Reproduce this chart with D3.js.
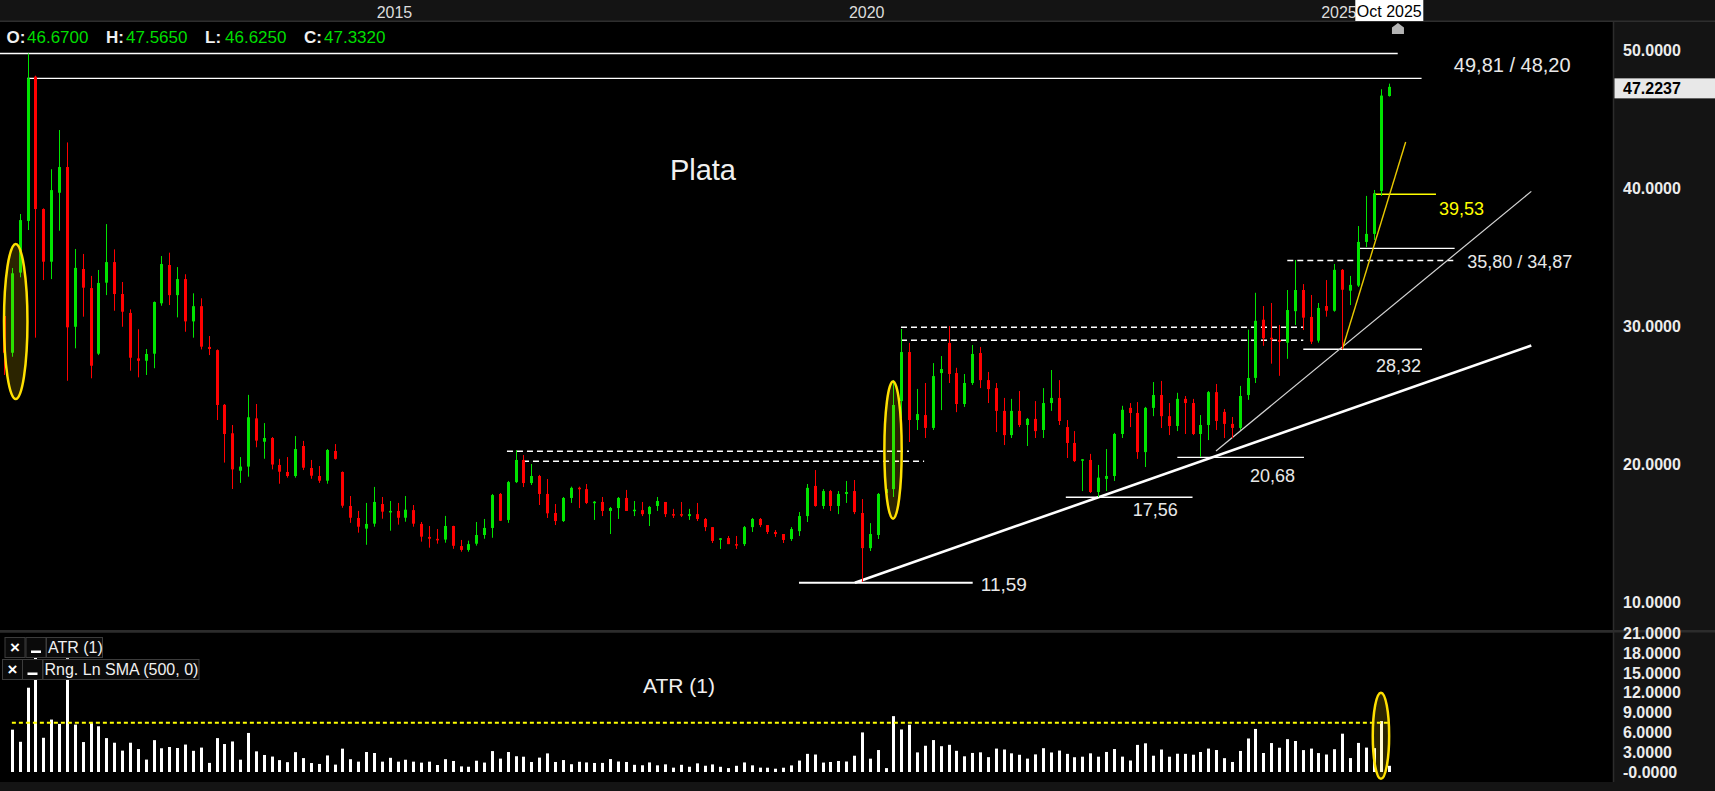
<!DOCTYPE html>
<html><head><meta charset="utf-8">
<script src="https://cdn.jsdelivr.net/npm/d3@7"></script>
<style>html,body{margin:0;padding:0;background:#000;overflow:hidden}</style>
</head><body>
<script>
// ---------------- DATA (monthly candles, Feb 2011 .. Oct 2025) ----------------
const months = d3.timeMonth.range(new Date(2011, 1, 1), new Date(2025, 10, 1));
const open = [
30.75,28.09,33.89,37.63,48.07,38.49,34.68,39.67,41.53,29.97,
34.15,32.77,28.02,33.16,34.65,32.34,30.97,27.68,27.51,28.02,
31.67,34.44,32.26,33.42,30.36,31.46,28.51,28.28,24.32,22.26,
19.55,19.85,23.34,21.65,21.92,19.97,19.46,19.17,21.34,19.75,
19.17,18.83,20.98,19.46,17.00,16.13,15.36,15.72,17.14,16.56,
16.64,16.15,16.70,15.70,14.76,14.62,14.57,15.55,14.10,13.82,
14.27,14.90,15.41,17.87,15.99,18.73,20.33,18.66,19.17,17.87,
16.49,15.91,17.58,18.32,18.22,17.24,17.29,16.64,16.85,17.58,
16.65,16.70,16.41,17.00,17.29,16.41,16.41,16.27,16.41,16.06,
15.47,14.58,14.68,14.24,14.24,15.47,16.06,15.62,15.12,14.97,
14.61,15.18,16.27,18.45,17.00,18.08,17.00,17.87,18.08,16.49,
13.95,14.90,17.94,18.22,24.59,28.14,23.22,23.58,22.65,26.62,
28.80,26.62,24.38,25.90,28.07,26.11,25.53,23.88,22.13,23.88,
22.86,23.30,22.50,24.45,24.82,22.71,21.56,20.30,20.33,18.01,
18.96,19.17,22.21,24.10,23.73,20.90,24.10,25.03,23.50,22.79,
24.75,24.45,22.21,22.86,25.24,23.81,22.94,22.65,25.03,26.27,
30.48,29.17,29.01,28.82,31.10,32.63,30.68,28.97,31.47,31.13,
34.09,32.58,32.95,36.11,36.69,39.80,46.67];
const high = [
30.88,34.22,38.13,49.75,48.14,38.54,41.37,44.21,43.31,35.60,
35.24,33.65,34.08,37.40,35.57,33.21,31.23,29.79,28.36,31.80,
35.09,35.33,34.29,33.77,32.39,32.03,29.30,28.33,24.38,22.86,
20.54,25.04,24.38,23.00,21.99,20.41,20.54,22.06,21.71,20.33,
19.89,21.12,21.48,19.50,17.72,16.64,17.22,18.38,17.65,17.36,
17.22,17.72,17.07,15.84,15.55,15.33,16.28,15.57,14.54,14.49,
15.84,16.06,17.87,17.94,18.81,21.05,20.69,20.04,19.25,18.95,
17.14,17.65,18.40,18.40,18.59,17.36,17.65,16.93,17.65,18.16,
17.36,17.29,17.00,17.65,17.29,16.79,17.29,16.79,17.22,16.13,
15.47,14.68,14.83,14.83,15.55,16.13,16.13,15.62,15.26,14.97,
15.47,16.56,18.59,19.60,18.22,18.16,18.08,18.81,18.88,17.50,
15.76,17.94,18.31,26.12,29.81,28.80,25.47,25.90,27.34,27.85,
30.02,27.00,26.55,28.65,28.51,26.70,25.90,24.82,24.75,25.32,
23.37,24.59,25.53,26.84,26.11,23.22,22.42,20.40,20.77,19.97,
21.12,22.29,24.25,24.45,24.52,24.17,25.97,26.05,24.45,25.19,
24.96,24.75,23.58,25.32,25.83,24.02,23.44,25.69,29.76,32.43,
31.47,31.69,30.10,32.63,34.80,33.06,32.27,31.69,33.35,34.51,
34.15,33.65,37.26,39.44,39.87,47.16,47.565];
const low = [
26.48,27.80,33.55,36.97,29.18,33.35,33.42,36.92,26.06,28.41,
30.70,26.24,27.92,32.26,31.13,29.97,26.79,26.31,26.48,26.97,
31.49,31.54,30.65,29.61,29.18,28.33,27.92,23.22,20.14,18.23,
18.67,19.12,21.25,20.42,19.65,18.61,19.05,19.05,19.60,18.97,
18.67,18.61,20.36,16.87,15.78,15.07,14.19,15.50,16.08,15.21,
15.65,15.86,15.50,14.42,13.98,14.27,14.34,13.90,13.69,13.69,
14.13,14.63,14.70,15.91,15.78,18.66,18.37,18.52,17.07,16.13,
15.62,15.84,17.22,16.85,17.14,15.99,16.27,14.97,16.06,16.64,
16.27,16.27,15.55,16.64,16.20,16.13,16.20,15.99,15.91,15.18,
14.32,13.89,14.24,13.89,14.10,15.12,15.47,14.97,14.76,14.32,
14.47,14.83,15.84,16.95,16.79,16.64,16.41,17.22,16.41,11.50,
13.74,14.61,17.72,17.65,23.36,21.63,22.50,21.92,22.50,23.94,
25.90,23.79,24.17,25.76,25.53,24.45,22.35,21.41,21.92,22.71,
21.34,21.92,21.92,23.88,22.86,20.47,20.18,18.08,17.94,17.65,
18.08,18.81,21.92,22.71,20.41,19.82,23.50,22.64,22.13,22.42,
22.21,22.13,20.55,21.77,22.50,21.92,21.92,22.50,24.68,25.90,
28.59,27.30,26.42,27.65,30.10,29.74,28.72,28.82,30.70,31.06,
28.34,31.54,32.85,35.74,36.25,39.44,46.625];
const close = [
28.09,33.84,37.69,47.95,38.49,34.68,39.86,41.53,29.93,34.23,
32.80,27.15,33.14,34.65,32.34,31.06,27.73,27.51,28.00,31.76,
34.51,32.26,33.42,30.36,31.46,28.53,28.36,24.31,22.21,19.65,
19.85,23.42,21.73,21.92,20.00,19.48,19.17,21.12,19.77,19.19,
18.83,21.05,20.41,17.02,16.15,15.50,15.70,17.29,16.59,16.64,
16.15,16.73,15.72,14.78,14.63,14.54,15.55,14.12,13.82,14.24,
14.90,15.41,17.79,15.93,18.73,20.33,18.66,19.17,17.87,16.47,
15.91,17.58,18.31,18.24,17.22,17.31,16.64,16.85,17.58,16.64,
16.73,16.41,16.93,17.36,16.41,16.34,16.34,16.41,16.06,15.47,
14.47,14.66,14.24,14.17,15.47,16.06,15.62,15.12,14.97,14.54,
15.33,16.27,18.31,17.00,18.08,17.00,17.87,18.01,16.56,13.95,
14.97,17.87,18.22,24.31,28.14,23.22,23.65,22.65,26.40,26.91,
26.55,24.38,25.90,28.00,26.11,25.46,23.88,22.13,23.88,22.86,
23.30,22.42,24.45,24.82,23.15,21.56,20.25,20.38,18.01,19.05,
19.17,22.21,23.96,23.73,20.90,24.10,25.03,23.50,22.79,24.75,
24.45,22.21,22.86,25.24,23.15,22.94,22.65,24.96,26.26,30.40,
29.14,29.06,28.89,31.18,32.63,30.63,28.89,31.33,31.13,34.09,
32.65,33.00,36.11,36.69,39.60,46.70,47.332];

const yearLabels = [2015, 2020, 2025];
const priceTicks = [50, 40, 30, 20, 10];
const atrTicks = [21, 18, 15, 12, 9, 6, 3, 0];
const smaLevel = 7.45;          // Rng. Ln SMA (500, 0)
const lastPrice = 47.2237;

// annotation lines (candle index units, price values)
const hLines = [
  {i0:-0.6, i1:177.07, v:49.75, c:"#ffffff", w:1.6},
  {i0:2.96, i1:180.1, v:47.95, c:"#ffffff", w:1.4},
  {i0:101.0, i1:123.07, v:11.45, c:"#ffffff", w:2},
  {i0:134.9, i1:151.0, v:17.63, c:"#ffffff", w:1.4},
  {i0:149.07, i1:165.16, v:20.52, c:"#ffffff", w:1.4},
  {i0:165.07, i1:180.15, v:28.34, c:"#ffffff", w:1.4},
  {i0:173.96, i1:181.93, v:39.56, c:"#ffff00", w:1.4},
  {i0:172.06, i1:184.3, v:35.64, c:"#ffffff", w:1.4}
];
const dashLines = [
  {i0:163.04, i1:184.3, v:34.77},
  {i0:113.96, i1:165.07, v:29.93},
  {i0:113.96, i1:165.07, v:28.99},
  {i0:63.9, i1:114.98, v:20.96},
  {i0:65.94, i1:116.9, v:20.24}
];
const trendLines = [
  {i0:108.1, v0:11.45, i1:194.04, v1:28.61, c:"#ffffff", w:2.6},
  {i0:153.98, v0:20.98, i1:194.04, v1:39.77, c:"#d4d4d4", w:1.2},
  {i0:170.03, v0:28.34, i1:178.08, v1:43.34, c:"#e8c800", w:1.4}
];
const labels = [
  {t:"49,81 / 48,20", i:184.2, v:48.91, s:20, c:"#e8e8e8", a:"start"},
  {t:"39,53", i:182.3, v:38.49, s:18, c:"#ffff00", a:"start"},
  {t:"35,80 / 34,87", i:185.9, v:34.66, s:18, c:"#e8e8e8", a:"start"},
  {t:"28,32", i:174.3, v:27.13, s:18, c:"#e8e8e8", a:"start"},
  {t:"20,68", i:158.3, v:19.17, s:18, c:"#e8e8e8", a:"start"},
  {t:"17,56", i:143.4, v:16.71, s:18, c:"#e8e8e8", a:"start"},
  {t:"11,59", i:124.1, v:11.32, s:19, c:"#e8e8e8", a:"start"},
  {t:"Plata", i:88.8, v:41.32, s:29, c:"#f0f0f0", a:"middle"}
];
const priceEllipses = [
  {i:1.49, v:30.35, ri:1.49, rv:5.61},
  {i:112.95, v:21.04, ri:1.1, rv:4.96}
];
const atrEllipse = {i:174.94, v:5.5, ri:1.04, rv:6.53};

// ---------------- LAYOUT ----------------
const W = 1715, H = 791;
const FONT = "'Liberation Sans', Arial, sans-serif";
const GREEN = "#00e400", RED = "#ff0000";
const n = open.length;
const candles = d3.range(n).map(i => ({i, d:months[i], o:open[i], h:high[i], l:low[i], c:close[i]}));
const atr = candles.map((d, i) => i === 0 ? null :
  Math.max(d.h, close[i-1]) - Math.min(d.l, close[i-1]));

const x = d3.scaleLinear().domain([0, n - 1]).range([4, 1389.3]);
const y = d3.scaleLinear().domain([10, 50]).range([602.7, 50]);
const yA = d3.scaleLinear().domain([0, 21]).range([772, 633.5]);

const svg = d3.select("body").append("svg").attr("width", W).attr("height", H)
  .style("font-family", FONT);
svg.append("rect").attr("width", W).attr("height", H).attr("fill", "#000");

const defs = svg.append("defs");
defs.append("clipPath").attr("id", "cp").append("rect").attr("x", 0).attr("y", 22).attr("width", 1613).attr("height", 608);
defs.append("clipPath").attr("id", "ca").append("rect").attr("x", 0).attr("y", 632).attr("width", 1613).attr("height", 150);

// ---- price panel ----
const gp = svg.append("g").attr("clip-path", "url(#cp)");

gp.selectAll("line.dash").data(dashLines).join("line")
  .attr("x1", d => x(d.i0)).attr("x2", d => x(d.i1))
  .attr("y1", d => y(d.v)).attr("y2", d => y(d.v))
  .attr("stroke", "#ffffff").attr("stroke-width", 1.4).attr("stroke-dasharray", "6,4");

gp.selectAll("line.h").data(hLines).join("line")
  .attr("x1", d => x(d.i0)).attr("x2", d => x(d.i1))
  .attr("y1", d => y(d.v)).attr("y2", d => y(d.v))
  .attr("stroke", d => d.c).attr("stroke-width", d => d.w);

gp.selectAll("line.t").data(trendLines).join("line")
  .attr("x1", d => x(d.i0)).attr("x2", d => x(d.i1))
  .attr("y1", d => y(d.v0)).attr("y2", d => y(d.v1))
  .attr("stroke", d => d.c).attr("stroke-width", d => d.w);

const cx = d => Math.round(x(d.i));
gp.selectAll("line.wick").data(candles).join("line")
  .attr("x1", d => cx(d) + 0.5).attr("x2", d => cx(d) + 0.5)
  .attr("y1", d => y(d.h)).attr("y2", d => y(d.l))
  .attr("stroke", d => d.c >= d.o ? GREEN : RED).attr("stroke-width", 1);
gp.selectAll("rect.body").data(candles).join("rect")
  .attr("x", d => cx(d) - 1).attr("width", 3)
  .attr("y", d => y(Math.max(d.o, d.c)))
  .attr("height", d => Math.max(1.5, Math.abs(y(d.o) - y(d.c))))
  .attr("fill", d => d.c >= d.o ? GREEN : RED);

gp.selectAll("ellipse").data(priceEllipses).join("ellipse")
  .attr("cx", d => x(d.i)).attr("cy", d => y(d.v))
  .attr("rx", d => x(d.i + d.ri) - x(d.i)).attr("ry", d => y(d.v - d.rv) - y(d.v))
  .attr("fill", "rgba(255,215,0,0.17)").attr("stroke", "#ffe000").attr("stroke-width", 2.5);

gp.selectAll("text.lab").data(labels).join("text")
  .attr("x", d => x(d.i)).attr("y", d => y(d.v))
  .attr("dominant-baseline", "central").attr("text-anchor", d => d.a)
  .attr("font-size", d => d.s).attr("fill", d => d.c).text(d => d.t);

// OHLC header
const last = candles[n - 1];
const hdr = [
  {k:"O:", v:last.o, kx:6.5, vx:27},
  {k:"H:", v:last.h, kx:106, vx:126},
  {k:"L:", v:last.l, kx:205, vx:225},
  {k:"C:", v:last.c, kx:304, vx:324}
];
hdr.forEach(h => {
  svg.append("text").attr("x", h.kx).attr("y", 43).attr("font-size", 17).attr("font-weight", "bold")
    .attr("fill", "#f0f0f0").text(h.k);
  svg.append("text").attr("x", h.vx).attr("y", 43).attr("font-size", 17)
    .attr("fill", "#00dd00").text(h.v.toFixed(4));
});

// ---- ATR panel ----
const ga = svg.append("g").attr("clip-path", "url(#ca)");
ga.selectAll("rect.atr").data(candles.filter(d => atr[d.i] !== null)).join("rect")
  .attr("x", d => cx(d) - 1).attr("width", 3)
  .attr("y", d => yA(atr[d.i])).attr("height", d => yA(0) - yA(atr[d.i]))
  .attr("fill", "#ffffff");
ga.append("line").attr("x1", x(1)).attr("x2", x(n - 1))
  .attr("y1", yA(smaLevel)).attr("y2", yA(smaLevel))
  .attr("stroke", "#ffff00").attr("stroke-width", 2).attr("stroke-dasharray", "4,3");
ga.append("ellipse").attr("cx", x(atrEllipse.i)).attr("cy", yA(atrEllipse.v))
  .attr("rx", x(atrEllipse.i + atrEllipse.ri) - x(atrEllipse.i))
  .attr("ry", yA(atrEllipse.v - atrEllipse.rv) - yA(atrEllipse.v))
  .attr("fill", "rgba(255,215,0,0.17)").attr("stroke", "#ffe000").attr("stroke-width", 2.5);
ga.append("text").attr("x", 643).attr("y", 693).attr("font-size", 21).attr("fill", "#f0f0f0").text("ATR (1)");

// legend boxes
const legendRows = [
  {y:637.5, xs:[5, 26, 46.5], w2:56, t:"ATR (1)"},
  {y:659.5, xs:[2.5, 22.5, 43], w2:156, t:"Rng. Ln SMA (500, 0)"}
];
legendRows.forEach(r => {
  const gl = svg.append("g");
  gl.append("rect").attr("x", r.xs[0]).attr("y", r.y).attr("width", 20).attr("height", 20)
    .attr("fill", "#0a0a0a").attr("stroke", "#3c3c3c");
  gl.append("text").attr("x", r.xs[0] + 10).attr("y", r.y + 15.5).attr("text-anchor", "middle")
    .attr("font-size", 17).attr("font-weight", "bold").attr("fill", "#fff").text("\u00d7");
  gl.append("rect").attr("x", r.xs[1]).attr("y", r.y).attr("width", 20).attr("height", 20)
    .attr("fill", "#0a0a0a").attr("stroke", "#3c3c3c");
  gl.append("rect").attr("x", r.xs[1] + 5).attr("y", r.y + 13).attr("width", 10).attr("height", 2.5).attr("fill", "#fff");
  gl.append("rect").attr("x", r.xs[2]).attr("y", r.y).attr("width", r.w2).attr("height", 20)
    .attr("fill", "#0a0a0a").attr("stroke", "#3c3c3c");
  gl.append("text").attr("x", r.xs[2] + 1.5).attr("y", r.y + 15.5).attr("font-size", 16)
    .attr("fill", "#f0f0f0").text(r.t);
});

// ---- frames ----
svg.append("rect").attr("x", 0).attr("y", 630).attr("width", W).attr("height", 2.5).attr("fill", "#2c2c2c");
svg.append("rect").attr("x", 0).attr("y", 782).attr("width", W).attr("height", 9).attr("fill", "#141414");
svg.append("rect").attr("x", 1613).attr("y", 22).attr("width", W - 1613).attr("height", H - 22).attr("fill", "#141414");
svg.append("line").attr("x1", 1613.5).attr("x2", 1613.5).attr("y1", 22).attr("y2", 782).attr("stroke", "#2c2c2c").attr("stroke-width", 1.5);
svg.append("rect").attr("x", 0).attr("y", 630).attr("width", W).attr("height", 2.5).attr("fill", "#2c2c2c");

// top time axis
svg.append("rect").attr("x", 0).attr("y", 0).attr("width", W).attr("height", 21).attr("fill", "#141414");
svg.append("rect").attr("x", 0).attr("y", 20.5).attr("width", W).attr("height", 1.5).attr("fill", "#2e2e2e");
yearLabels.forEach(yr => {
  const idx = months.findIndex(m => m.getFullYear() === yr && m.getMonth() === 0);
  svg.append("text").attr("x", x(idx) + 2.7).attr("y", 17.5).attr("font-size", 16)
    .attr("fill", "#dcdcdc").text(String(yr));
});
const lastLabel = d3.timeFormat("%b %Y")(months[n - 1]);
svg.append("rect").attr("x", x(n - 1) - 34).attr("y", 0).attr("width", 68).attr("height", 21).attr("fill", "#ffffff");
svg.append("text").attr("x", x(n - 1)).attr("y", 17).attr("text-anchor", "middle").attr("font-size", 16)
  .attr("fill", "#000").text(lastLabel);
// home marker
const hm = x(n - 1 + 1.1);
svg.append("path").attr("d", `M${hm-6},34 L${hm-6},27.5 L${hm},23 L${hm+6},27.5 L${hm+6},34 Z`).attr("fill", "#b4b4b4");

// right price axis
svg.selectAll("text.pt").data(priceTicks).join("text")
  .attr("x", 1623).attr("y", d => y(d)).attr("dominant-baseline", "central")
  .attr("font-size", 16).attr("font-weight", "bold").attr("fill", "#ececec")
  .text(d => d.toFixed(4));
svg.append("rect").attr("x", 1614.5).attr("y", y(lastPrice) - 10).attr("width", W - 1614.5).attr("height", 20).attr("fill", "#e8e8e8");
svg.append("text").attr("x", 1623).attr("y", y(lastPrice)).attr("dominant-baseline", "central")
  .attr("font-size", 16).attr("font-weight", "bold").attr("fill", "#000").text(lastPrice.toFixed(4));

// right ATR axis
svg.selectAll("text.at").data(atrTicks).join("text")
  .attr("x", 1623).attr("y", d => yA(d)).attr("dominant-baseline", "central")
  .attr("font-size", 16).attr("font-weight", "bold").attr("fill", "#ececec")
  .text(d => d === 0 ? "-0.0000" : d.toFixed(4));
</script>
</body></html>
